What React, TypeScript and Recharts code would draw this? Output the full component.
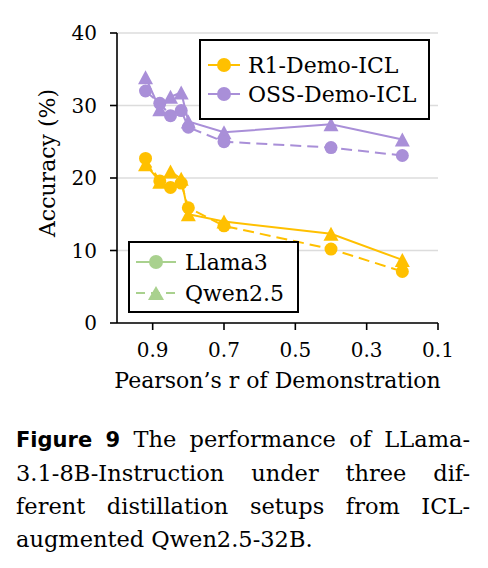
import React from "react";
import {
  LineChart,
  Line,
  XAxis,
  YAxis,
  CartesianGrid,
  Label,
} from "recharts";

// Pearson's r of the demonstrations (x)
const pearsonR = [0.92, 0.88, 0.85, 0.82, 0.8, 0.7, 0.4, 0.2];
// Accuracy (%)
const r1Llama = [22.7, 19.6, 18.7, 19.3, 15.9, 13.4, 10.2, 7.1];
const r1Qwen = [21.9, 19.5, 20.9, 19.9, 15.0, 14.0, 12.3, 8.7];
const ossLlama = [32.0, 30.3, 28.6, 29.3, 27.0, 25.0, 24.2, 23.1];
const ossQwen = [33.9, 29.5, 31.2, 31.8, 27.8, 26.3, 27.4, 25.3];

const xTicks = [0.9, 0.7, 0.5, 0.3, 0.1];
const yTicks = [0, 10, 20, 30, 40];

const seriesLegend = ["R1-Demo-ICL", "OSS-Demo-ICL"];
const modelLegend = ["Llama3", "Qwen2.5"];

const YELLOW = "#FFC000";
const PURPLE = "#A98FD8";
const GREEN = "#A9D18E";
const SERIF = "'DejaVu Serif', serif";

const data = pearsonR.map((x, i) => ({
  x,
  r1Llama: r1Llama[i],
  r1Qwen: r1Qwen[i],
  ossLlama: ossLlama[i],
  ossQwen: ossQwen[i],
}));

const makeTriangle = (color: string) => (props: any) => {
  const { cx, cy, index } = props;
  if (cx == null || cy == null) return <g key={`t-${index}`} />;
  const w = 7.5;
  const h = 7;
  return (
    <polygon
      key={`t-${color}-${index}`}
      points={`${cx},${cy - h} ${cx - w},${cy + h} ${cx + w},${cy + h}`}
      fill={color}
      stroke="none"
    />
  );
};

const makeCircle = (color: string) => (props: any) => {
  const { cx, cy, index } = props;
  if (cx == null || cy == null) return <g key={`c-${index}`} />;
  return <circle key={`c-${color}-${index}`} cx={cx} cy={cy} r={6.5} fill={color} stroke="none" />;
};

const LegendIcon = ({
  color,
  marker,
  dashed,
  width,
}: {
  color: string;
  marker: "circle" | "triangle";
  dashed?: boolean;
  width: number;
}) => (
  <svg width={width} height={20} style={{ display: "block" }}>
    <line
      x1={0}
      y1={10}
      x2={width}
      y2={10}
      stroke={color}
      strokeWidth={2}
      strokeDasharray={dashed ? "9 6" : undefined}
    />
    {marker === "circle" ? (
      <circle cx={width / 2} cy={10} r={7} fill={color} />
    ) : (
      <polygon
        points={`${width / 2},3 ${width / 2 - 8},17 ${width / 2 + 8},17`}
        fill={color}
      />
    )}
  </svg>
);

export default function App() {
  return (
    <div
      style={{
        position: "relative",
        width: 488,
        height: 568,
        margin: "-8px 0 0 -8px",
        background: "#fff",
        overflow: "hidden",
      }}
    >
      <LineChart
        width={488}
        height={400}
        data={data}
        margin={{ top: 33, right: 50, left: 0, bottom: 0 }}
      >
        <CartesianGrid vertical={false} stroke="#dcdcdc" strokeWidth={1.5} />
        <XAxis
          dataKey="x"
          type="number"
          domain={[0.1, 1.0]}
          reversed
          allowDataOverflow
          ticks={xTicks}
          tickFormatter={(v: number) => v.toFixed(1)}
          tickSize={7}
          tickMargin={13}
          height={77}
          axisLine={{ stroke: "#000", strokeWidth: 1.6 }}
          tickLine={{ stroke: "#000", strokeWidth: 1.6 }}
          tick={{ fill: "#000", fontSize: 20, fontFamily: SERIF }}
          interval={0}
        >
          <Label
            value="Pearson’s r of Demonstration"
            position="insideBottom"
            offset={12}
            style={{ fill: "#000", fontSize: 22, fontFamily: SERIF }}
          />
        </XAxis>
        <XAxis
          xAxisId="top"
          orientation="top"
          dataKey="x"
          type="number"
          domain={[0.1, 1.0]}
          reversed
          height={0}
          tick={false}
          tickLine={false}
          axisLine={{ stroke: "#000", strokeWidth: 1.6 }}
        />
        <YAxis
          type="number"
          domain={[0, 40]}
          ticks={yTicks}
          width={117}
          tickSize={7}
          tickMargin={13}
          axisLine={{ stroke: "#000", strokeWidth: 1.6 }}
          tickLine={{ stroke: "#000", strokeWidth: 1.6 }}
          tick={{ fill: "#000", fontSize: 20, fontFamily: SERIF }}
          interval={0}
        >
          <Label
            content={() => (
              <text
                x={47}
                y={163}
                transform="rotate(-90 47 163)"
                textAnchor="middle"
                dominantBaseline="central"
                style={{ fill: "#000", fontSize: 22, fontFamily: SERIF }}
              >
                Accuracy (%)
              </text>
            )}
          />
        </YAxis>
        <YAxis
          yAxisId="right"
          orientation="right"
          type="number"
          domain={[0, 40]}
          width={0}
          tick={false}
          tickLine={false}
          axisLine={{ stroke: "#000", strokeWidth: 1.6 }}
        />
        <Line
          dataKey="ossQwen"
          type="linear"
          stroke={PURPLE}
          strokeWidth={2}
          dot={makeTriangle(PURPLE)}
          activeDot={false}
          isAnimationActive={false}
        />
        <Line
          dataKey="ossLlama"
          type="linear"
          stroke={PURPLE}
          strokeWidth={2}
          strokeDasharray="11 6"
          dot={makeCircle(PURPLE)}
          activeDot={false}
          isAnimationActive={false}
        />
        <Line
          dataKey="r1Qwen"
          type="linear"
          stroke={YELLOW}
          strokeWidth={2}
          dot={makeTriangle(YELLOW)}
          activeDot={false}
          isAnimationActive={false}
        />
        <Line
          dataKey="r1Llama"
          type="linear"
          stroke={YELLOW}
          strokeWidth={2}
          strokeDasharray="11 6"
          dot={makeCircle(YELLOW)}
          activeDot={false}
          isAnimationActive={false}
        />
      </LineChart>

      {/* Legend: methods */}
      <div
        style={{
          position: "absolute",
          left: 199,
          top: 39,
          width: 231,
          height: 81,
          boxSizing: "border-box",
          border: "2px solid #000",
          background: "#fff",
          fontFamily: SERIF,
          fontSize: 22,
          color: "#000",
        }}
      >
        {seriesLegend.map((name, i) => (
          <div
            key={name}
            style={{
              position: "absolute",
              left: 7,
              top: 10 + i * 29,
              height: 28,
              display: "flex",
              alignItems: "center",
              whiteSpace: "nowrap",
            }}
          >
            <LegendIcon color={i === 0 ? YELLOW : PURPLE} marker="circle" width={32} />
            <span style={{ marginLeft: 8 }}>{name}</span>
          </div>
        ))}
      </div>

      {/* Legend: models */}
      <div
        style={{
          position: "absolute",
          left: 128,
          top: 241,
          width: 171,
          height: 72,
          boxSizing: "border-box",
          border: "2px solid #000",
          background: "#fff",
          fontFamily: SERIF,
          fontSize: 22,
          color: "#000",
        }}
      >
        {modelLegend.map((name, i) => (
          <div
            key={name}
            style={{
              position: "absolute",
              left: 6,
              top: 5 + i * 31,
              height: 28,
              display: "flex",
              alignItems: "center",
              whiteSpace: "nowrap",
            }}
          >
            <LegendIcon
              color={GREEN}
              marker={i === 0 ? "circle" : "triangle"}
              dashed={i === 1}
              width={40}
            />
            <span style={{ marginLeft: 9 }}>{name}</span>
          </div>
        ))}
      </div>

      {/* Caption */}
      <div
        style={{
          position: "absolute",
          left: 16,
          top: 423,
          width: 454,
          fontFamily: SERIF,
          fontSize: 22.5,
          lineHeight: "33px",
          color: "#000",
        }}
      >
        <div style={{ textAlign: "justify", textAlignLast: "justify", whiteSpace: "nowrap" as any }}>
          <span style={{ fontFamily: "'DejaVu Sans', sans-serif", fontWeight: 700, fontSize: 21 }}>
            Figure 9
          </span>{" "}
          The performance of LLama-
        </div>
        <div style={{ textAlign: "justify", textAlignLast: "justify" }}>
          3.1-8B-Instruction under three dif-
        </div>
        <div style={{ textAlign: "justify", textAlignLast: "justify" }}>
          ferent distillation setups from ICL-
        </div>
        <div style={{ textAlign: "left" }}>augmented Qwen2.5-32B.</div>
      </div>
    </div>
  );
}
